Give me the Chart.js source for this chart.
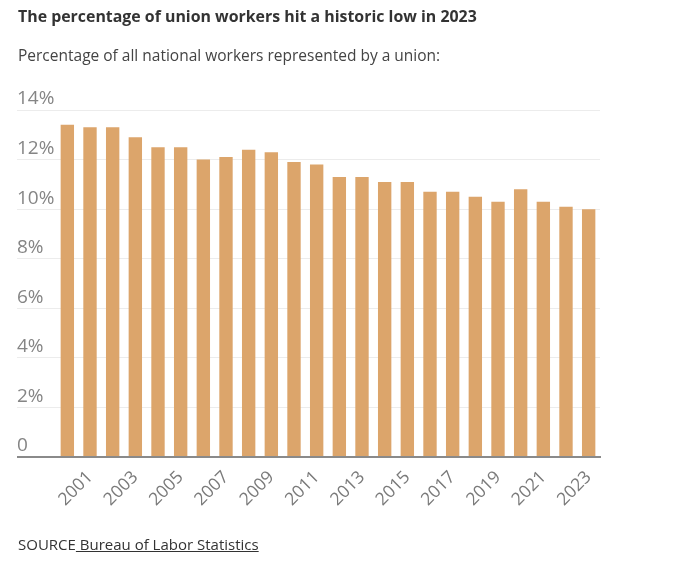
<!DOCTYPE html>
<html>
<head>
<meta charset="utf-8">
<script src="https://cdn.jsdelivr.net/npm/chart.js@4.4.0/dist/chart.umd.min.js"></script>
<style>
  body { margin: 0; background: #fff; font-family: "Open Sans", sans-serif; }
  #wrap { position: relative; width: 673px; height: 565px; }
  #myChart { position: absolute; left: 0; top: 0; }
  .title { position: absolute; left: 18px; top: 5px; font-size: 15.9px; font-weight: bold; color: #333; }
  .sub { position: absolute; left: 18px; top: 44px; font-size: 15.5px; color: #444; }
  .source { position: absolute; left: 18px; top: 534px; font-size: 15px; color: #333; }
  .source span { text-decoration: underline; }
</style>
</head>
<body>
<div id="wrap">
  <canvas id="myChart" width="673" height="565"></canvas>
  <div class="title">The percentage of union workers hit a historic low in 2023</div>
  <div class="sub">Percentage of all national workers represented by a union:</div>
  <div class="source">SOURCE<span> Bureau of Labor Statistics </span></div>
</div>
<script>
var years = ["2000", "2001", "2002", "2003", "2004", "2005", "2006", "2007", "2008", "2009", "2010", "2011",
             "2012", "2013", "2014", "2015", "2016", "2017", "2018", "2019", "2020", "2021", "2022", "2023"];
var unionRates = [13.4, 13.3, 13.3, 12.9, 12.5, 12.5, 12.0, 12.1, 12.4, 12.3, 11.9, 11.8,
                  11.3, 11.3, 11.1, 11.1, 10.7, 10.7, 10.5, 10.3, 10.8, 10.3, 10.1, 10.0];
var yTicks = [0, 2, 4, 6, 8, 10, 12, 14];

const config = {
    type: 'bar',
    data: {
      labels: years,
      datasets: [{
        label: 'Union workers (%)',
        data: unionRates,
        backgroundColor: '#dca56b',
        barPercentage: 0.59,
        categoryPercentage: 1.0
      }]
    },
    options: {
      responsive: false,
      animation: false,
      layout: { padding: { top: 110, right: 73, left: 17, bottom: 0 } },
      plugins: { legend: { display: false }, tooltip: { enabled: false } },
      scales: {
        x: {
          z: 1,
          grid: { display: false },
          border: { display: true, color: '#8a8a8a', width: 2 },
          ticks: {
            autoSkip: false,
            maxRotation: 45,
            minRotation: 45,
            padding: 2,
            color: '#7a7a7a',
            font: { family: 'Open Sans', size: 17.5 },
            callback: function (v, i) { return i % 2 === 1 ? years[i] : ''; }
          },
          afterFit: function (s) { s.height = 108; }
        },
        y: {
          min: 0,
          max: 14,
          afterBuildTicks: function (s) { s.ticks = yTicks.map(function (v) { return { value: v }; }); },
          border: { display: false },
          grid: {
            color: function (c) { return c.tick && c.tick.value === 0 ? '#8a8a8a' : '#ececec'; },
            lineWidth: function (c) { return c.tick && c.tick.value === 0 ? 2 : 1; },
            tickLength: 39
          },
          ticks: {
            crossAlign: 'far',
            labelOffset: -11,
            color: '#858585',
            font: { family: 'Open Sans', size: 19 },
            callback: function (v) { return v === 0 ? '0' : v + '%'; }
          },
          afterFit: function (s) { s.width = 39; }
        }
      }
    }
  };

var ctx = document.getElementById('myChart');
var myChart = new Chart(ctx, config);
</script>
</body>
</html>
